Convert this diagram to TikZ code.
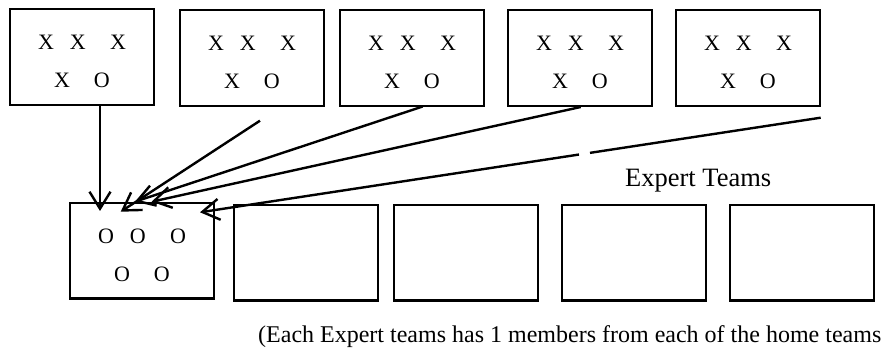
\documentclass[tikz,border=0pt]{standalone}
\usepackage{fontspec}
\setmainfont{Liberation Serif}
\usetikzlibrary{arrows.meta,calc}

% five members of a team: three on the first row, two on the second
\newcommand\teamrows[4]{%
  \node[glyph] (#1-1) at ($(#1.north west)+(36,40.5)$) {#2};
  \node[glyph] (#1-2) at ($(#1.north west)+(67.8,40.5)$) {#2};
  \node[glyph] (#1-3) at ($(#1.north west)+(108,40.5)$) {#2};
  \node[glyph] (#1-4) at ($(#1.north west)+(52,79)$) {#3};
  \node[glyph] (#1-5) at ($(#1.north west)+(91.8,79)$) {#4};
}

\begin{document}
\begin{tikzpicture}[x=1pt,y=-1pt,
  homebox/.style={draw,line width=2.5pt,inner sep=0pt,outer sep=0pt,
    minimum width=144pt,minimum height=96pt,anchor=north west},
  expertbox/.style={homebox,minimum height=95.5pt},
  glyph/.style={inner sep=0pt,anchor=base,font=\fontsize{22}{26}\selectfont},
  conn/.style={line width=2.4pt,-{Straight Barb[length=17pt,width=21pt]}},
  plainline/.style={line width=2.4pt}]
\useasboundingbox (0,0) rectangle (883,352);

% home teams
\node[homebox] (h1) at (10,9) {};
\node[homebox] (h2) at (180,10) {};
\node[homebox] (h3) at (340,10) {};
\node[homebox] (h4) at (508,10) {};
\node[homebox] (h5) at (676,10) {};
\foreach \b in {h1,h2,h3,h4,h5} {\teamrows{\b}{X}{X}{O}}

% expert teams
\node[expertbox] (e1) at (70,203) {};
\node[expertbox] (e2) at (234,205) {};
\node[expertbox] (e3) at (394,205) {};
\node[expertbox] (e4) at (562,205) {};
\node[expertbox] (e5) at (730,205) {};
\teamrows{e1}{O}{O}{O}

% connector ends
\coordinate (s1) at ($(h1.south west)+(90,0)$);
\coordinate (s2) at ($(h2.south west)+(80,14.7)$);
\coordinate (s3) at ($(h3.south west)+(82.7,0.5)$);
\coordinate (s4) at ($(h4.south west)+(72.7,1)$);
\coordinate (s5) at ($(h5.south east)+(0.7,11.7)$);
\coordinate (t1) at ($(e1.north west)+(30,8)$);
\coordinate (t2) at ($(e1.north west)+(50.7,8.7)$);
\coordinate (t3) at ($(e1.north west)+(65,-1.3)$);
\coordinate (t4) at ($(e1.north west)+(81.7,-1.3)$);
\coordinate (t5) at ($(e1.north west)+(130,9.3)$);

% one member of each home team goes to the first expert team
\draw[conn] (s1) -- (t1);
\draw[conn] (s2) -- (t2);
\draw[conn] (s3) -- (t3);
\draw[conn] (s4) -- (t4);
\draw[plainline] (s5) -- ($(s5)!0.3717!(t5)$);
\draw[conn] ($(s5)!0.3894!(t5)$) -- (t5);

% labels
\node[anchor=base west,inner sep=0pt,font=\fontsize{26.5}{30}\selectfont]
  (title) at (625,187) {Expert Teams};
\node[anchor=base east,inner sep=0pt,font=\fontsize{24}{28}\selectfont]
  (note) at (881.5,343) {(Each Expert teams has 1 members from each of the home teams};
\end{tikzpicture}
\end{document}
